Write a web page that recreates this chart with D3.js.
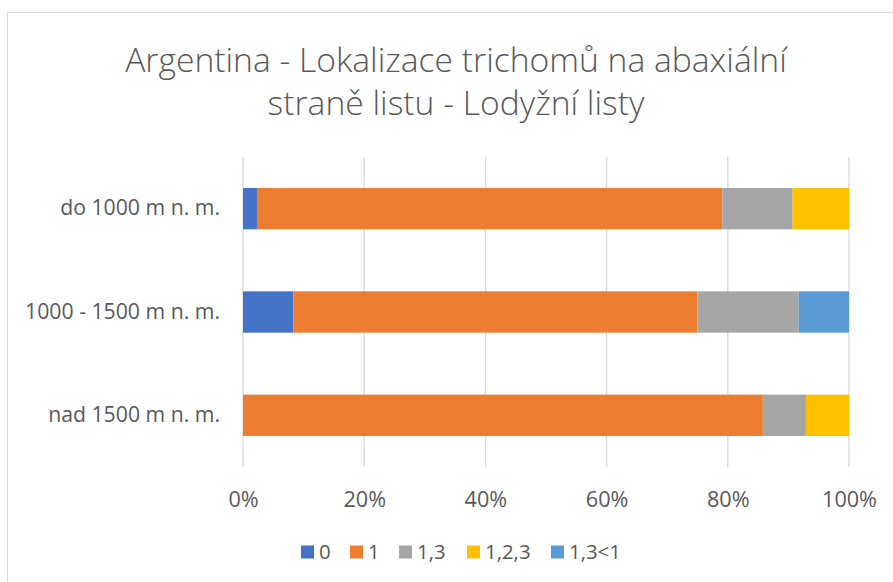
<!DOCTYPE html>
<html>
<head>
<meta charset="utf-8">
<script src="https://cdn.jsdelivr.net/npm/d3@7"></script>
<style>
  body { margin: 0; background: #fff; }
  svg { display: block; font-family: "Open Sans", "Noto Sans", sans-serif; }
</style>
</head>
<body>
<div id="chart"></div>
<script>
// data (percent of leaves per altitude)
const categories = ["do 1000 m n. m.", "1000 - 1500 m n. m.", "nad 1500 m n. m."];
const seriesNames = ["0", "1", "1,3", "1,2,3", "1,3<1"];
const v0 = [2.3, 8.3, 0];
const v1 = [76.7, 66.7, 85.7];
const v13 = [11.6, 16.7, 7.1];
const v123 = [9.3, 0, 7.1];
const v13lt1 = [0, 8.3, 0];
const colors = ["#4472C4", "#ED7D31", "#A5A5A5", "#FFC000", "#5B9BD5"];
const xTicks = [0, 0.2, 0.4, 0.6, 0.8, 1];
const titleLines = ["Argentina - Lokalizace trichomů na abaxiální", "straně listu - Lodyžní listy"];

const width = 893, height = 582;
const plot = { left: 243, right: 849, top: 157, bottom: 467 };
const textColor = "#595959";

const rows = categories.map((c, i) => ({
  cat: c, "0": v0[i], "1": v1[i], "1,3": v13[i], "1,2,3": v123[i], "1,3<1": v13lt1[i]
}));

const stacked = d3.stack()
  .keys(seriesNames)
  .offset(d3.stackOffsetExpand)(rows);

const svg = d3.select("#chart").append("svg")
  .attr("width", width)
  .attr("height", height);

// pick a font size so that a sample string gets the width seen in the picture
function fitSize(sample, targetWidth, weight) {
  const t = svg.append("text").attr("font-size", 100).attr("font-weight", weight || 400).text(sample);
  const w = t.node().getComputedTextLength();
  t.remove();
  return 100 * targetWidth / w;
}

const titleSize = fitSize(titleLines[0], 662, 300);
const catSize = fitSize("1000 - 1500 m n. m.", 195);
const tickSize = fitSize("100%", 55);
const legendSize = fitSize("1,3<1", 52);

// chart frame
svg.append("rect")
  .attr("x", 7.5).attr("y", 12.5)
  .attr("width", 900).attr("height", 600)
  .attr("fill", "#fff")
  .attr("stroke", "#d9d9d9");

const x = d3.scaleLinear().domain([0, 1]).range([plot.left, plot.right]);
const y = d3.scaleBand().domain(categories)
  .range([plot.top, plot.bottom])
  .paddingInner(0.6).paddingOuter(0.3);

// gridlines
svg.append("g").selectAll("line")
  .data(xTicks)
  .join("line")
  .attr("x1", d => x(d)).attr("x2", d => x(d))
  .attr("y1", plot.top).attr("y2", plot.bottom)
  .attr("stroke", "#d9d9d9")
  .attr("stroke-width", 1.3);

// bars
svg.append("g").selectAll("g")
  .data(stacked)
  .join("g")
  .attr("fill", (d, i) => colors[i])
  .selectAll("rect")
  .data(d => d)
  .join("rect")
  .attr("x", d => x(d[0]))
  .attr("width", d => x(d[1]) - x(d[0]))
  .attr("y", d => y(d.data.cat))
  .attr("height", y.bandwidth());

// x axis labels
const xAxis = svg.append("g")
  .attr("transform", `translate(0,${plot.bottom})`)
  .call(d3.axisBottom(x).tickValues(xTicks).tickFormat(d3.format(".0%")).tickSize(0))
  .attr("font-family", null).attr("font-size", null);
xAxis.select(".domain").remove();
xAxis.selectAll("text")
  .attr("y", 32).attr("dy", "0.35em")
  .attr("fill", textColor).attr("font-size", tickSize);

// category labels
const yAxis = svg.append("g")
  .attr("transform", `translate(${plot.left},0)`)
  .call(d3.axisLeft(y).tickSize(0).tickPadding(23))
  .attr("font-family", null).attr("font-size", null);
yAxis.select(".domain").remove();
yAxis.selectAll("text").attr("fill", textColor).attr("font-size", catSize);

// title
svg.append("g").selectAll("text")
  .data(titleLines)
  .join("text")
  .attr("x", 456)
  .attr("y", (d, i) => 60 + i * 43)
  .attr("dy", "0.35em")
  .attr("text-anchor", "middle")
  .attr("fill", textColor)
  .attr("font-size", titleSize)
  .attr("font-weight", 300)
  .text(d => d);

// legend
const legendX = [301, 350, 399, 467, 551];
const legend = svg.append("g").selectAll("g")
  .data(seriesNames)
  .join("g")
  .attr("transform", (d, i) => `translate(${legendX[i]},552)`);
legend.append("rect")
  .attr("x", 0).attr("y", -6.5)
  .attr("width", 13).attr("height", 13)
  .attr("fill", (d, i) => colors[i]);
legend.append("text")
  .attr("x", 18).attr("y", 0)
  .attr("dy", "0.35em")
  .attr("fill", textColor)
  .attr("font-size", legendSize)
  .text(d => d);
</script>
</body>
</html>
